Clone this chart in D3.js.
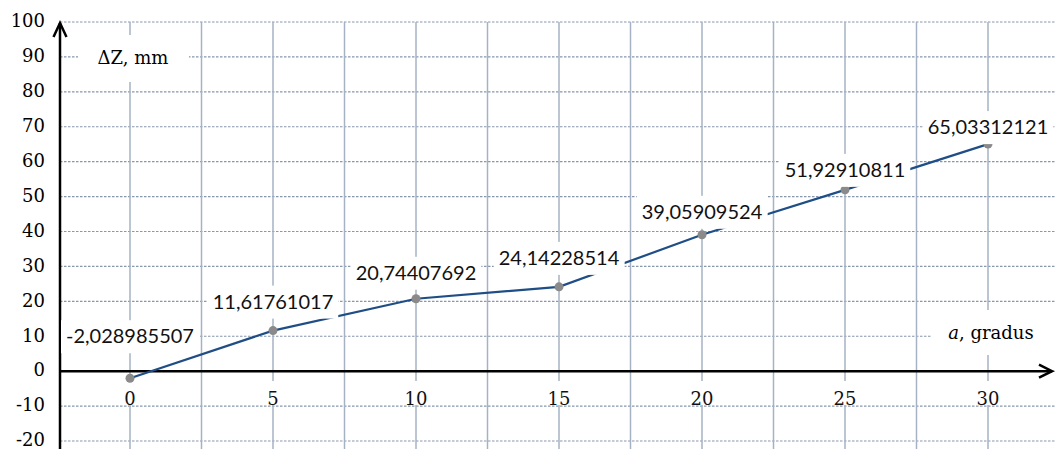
<!DOCTYPE html>
<html>
<head>
<meta charset="utf-8">
<script src="https://cdn.jsdelivr.net/npm/d3@7"></script>
<style>
  html, body { margin: 0; padding: 0; background: #fff; }
  svg { display: block; }
</style>
</head>
<body>
<svg id="chart" width="1055" height="449"></svg>
<script>
// data
const angles = [0, 5, 10, 15, 20, 25, 30];
const deltaZ = [-2.028985507, 11.61761017, 20.74407692, 24.14228514, 39.05909524, 51.92910811, 65.03312121];
const xTicks = [0, 5, 10, 15, 20, 25, 30];
const yTicks = [-20, -10, 0, 10, 20, 30, 40, 50, 60, 70, 80, 90, 100];
const xGrid = [0, 2.5, 5, 7.5, 10, 12.5, 15, 17.5, 20, 22.5, 25, 27.5, 30];
// label offsets above each point (px), as placed in the picture
const labelDy = [-42, -29, -26, -29, -23, -20, -17];

const W = 1055, H = 449;
const svg = d3.select('#chart');

const x = d3.scaleLinear().domain([-2.5, 32.5]).range([58.5, 1059.5]);
const y = d3.scaleLinear().domain([-20, 100]).range([441, 22]);
const x0 = x(-2.5) + 1.5;
const y0 = y(0);

// grid
svg.append('g').selectAll('line')
  .data(yTicks)
  .join('line')
  .attr('x1', x0).attr('x2', W)
  .attr('y1', d => y(d)).attr('y2', d => y(d))
  .attr('stroke', '#8797ad')
  .attr('stroke-width', 1.2)
  .attr('stroke-dasharray', '2.5,1.5');

svg.append('g').selectAll('line')
  .data(xGrid)
  .join('line')
  .attr('x1', d => x(d)).attr('x2', d => x(d))
  .attr('y1', y(100)).attr('y2', H)
  .attr('stroke', '#a6b2c3')
  .attr('stroke-width', 1.5);

// axes
svg.append('line')
  .attr('x1', x0).attr('x2', x0).attr('y1', H).attr('y2', y(100) + 1)
  .attr('stroke', '#000').attr('stroke-width', 2.5);
svg.append('path')
  .attr('d', `M${x0 - 6.5},${y(100) + 15} L${x0},${y(100) + 1} L${x0 + 6.5},${y(100) + 15}`)
  .attr('fill', 'none').attr('stroke', '#000').attr('stroke-width', 2.5);

svg.append('line')
  .attr('x1', x0).attr('x2', W - 3).attr('y1', y0).attr('y2', y0)
  .attr('stroke', '#000').attr('stroke-width', 2.5);
svg.append('path')
  .attr('d', `M${W - 16},${y0 - 6.5} L${W - 3},${y0} L${W - 16},${y0 + 6.5}`)
  .attr('fill', 'none').attr('stroke', '#000').attr('stroke-width', 2.5);

// y tick labels
svg.append('g').selectAll('text')
  .data(yTicks)
  .join('text')
  .attr('x', 45).attr('y', d => y(d) - 1)
  .attr('dy', '0.35em')
  .attr('text-anchor', 'end')
  .attr('font-family', 'DejaVu Serif')
  .attr('font-size', 18)
  .attr('fill', '#000')
  .text(d => d);

// helper: text with white box behind it
function boxedText (g, tx, ty, str, font, size, padX, padTop, padBot) {
  const grp = g.append('g');
  const rect = grp.append('rect').attr('fill', '#fff');
  const t = grp.append('text')
    .attr('x', tx).attr('y', ty)
    .attr('dy', '0.35em')
    .attr('text-anchor', 'middle')
    .attr('font-family', font)
    .attr('font-size', size)
    .attr('fill', '#111')
    .text(str);
  const bb = t.node().getBBox();
  rect.attr('x', bb.x - padX).attr('width', bb.width + 2 * padX)
    .attr('y', ty - padTop).attr('height', padTop + padBot);
  return t;
}

// x tick labels
const xt = svg.append('g');
xTicks.forEach(d => boxedText(xt, x(d), 399, d, 'DejaVu Serif', 18, 6, 18, 6));

// series line + markers
const line = d3.line().x((d, i) => x(angles[i])).y(d => y(d));
svg.append('path')
  .datum(deltaZ)
  .attr('d', line)
  .attr('fill', 'none')
  .attr('stroke', '#1f4e86')
  .attr('stroke-width', 2.2);

svg.append('g').selectAll('circle')
  .data(deltaZ)
  .join('circle')
  .attr('cx', (d, i) => x(angles[i]))
  .attr('cy', d => y(d))
  .attr('r', 4.5)
  .attr('fill', '#8a8a8a');

// data labels
const lg = svg.append('g');
deltaZ.forEach((d, i) => {
  boxedText(lg, x(angles[i]), y(d) + labelDy[i], String(d).replace('.', ','),
    'Lato', 20, 5, 16, 17);
});

// axis titles
const yt = svg.append('g');
yt.append('rect').attr('fill', '#fff')
  .attr('x', 78).attr('y', 35).attr('width', 111).attr('height', 47);
yt.append('text')
  .attr('x', 133).attr('y', 58).attr('dy', '0.35em')
  .attr('text-anchor', 'middle')
  .attr('font-family', 'DejaVu Serif')
  .attr('font-size', 18)
  .attr('fill', '#000')
  .text('ΔZ, mm');

const xtl = svg.append('g');
xtl.append('rect').attr('fill', '#fff')
  .attr('x', 932).attr('y', 310).attr('width', W - 932).attr('height', 45);
const xtt = xtl.append('text')
  .attr('x', 991).attr('y', 333).attr('dy', '0.35em')
  .attr('text-anchor', 'middle')
  .attr('font-family', 'DejaVu Serif')
  .attr('font-size', 18)
  .attr('fill', '#000');
xtt.append('tspan').attr('font-style', 'italic').text('a');
xtt.append('tspan').text(', gradus');
</script>
</body>
</html>
